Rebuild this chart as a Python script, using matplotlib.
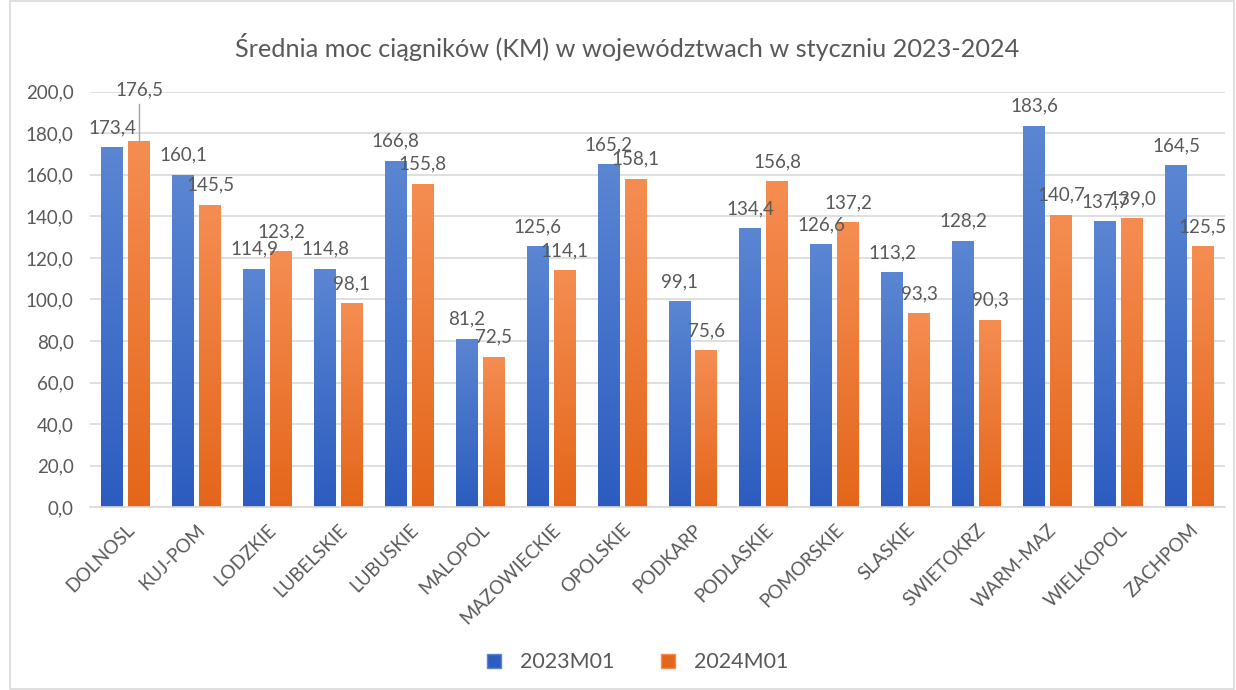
import numpy as np
import matplotlib
matplotlib.use('Agg')
import matplotlib.pyplot as plt
from matplotlib.colors import LinearSegmentedColormap
from matplotlib.patches import Rectangle

plt.rcParams['font.family'] = ['Lato', 'DejaVu Sans']

# dane
wojewodztwa = ['DOLNOSL', 'KUJ-POM', 'LODZKIE', 'LUBELSKIE', 'LUBUSKIE', 'MALOPOL',
               'MAZOWIECKIE', 'OPOLSKIE', 'PODKARP', 'PODLASKIE', 'POMORSKIE', 'SLASKIE',
               'SWIETOKRZ', 'WARM-MAZ', 'WIELKOPOL', 'ZACHPOM']
moc_2023 = [173.4, 160.1, 114.9, 114.8, 166.8, 81.2, 125.6, 165.2, 99.1, 134.4,
            126.6, 113.2, 128.2, 183.6, 137.7, 164.5]
moc_2024 = [176.5, 145.5, 123.2, 98.1, 155.8, 72.5, 114.1, 158.1, 75.6, 156.8,
            137.2, 93.3, 90.3, 140.7, 139.0, 125.5]
serie = ['2023M01', '2024M01']
tytul = 'Średnia moc ciągników (KM) w województwach w styczniu 2023-2024'

szary = '#595959'
kolory = {'2023M01': ('#5b86d3', '#2c5cbf'), '2024M01': ('#f58d52', '#e4661a')}

fig = plt.figure(figsize=(12.36, 6.9), dpi=100)
fig.patches.append(Rectangle((0.008, 0.002), 0.99, 0.996, transform=fig.transFigure,
                             fill=False, edgecolor='#d9d9d9', linewidth=1.2))
ax = fig.add_axes([0.073, 0.265, 0.918, 0.602])

x = np.arange(len(wojewodztwa))
szer = 0.31
przes = 0.19


def gradient_bars(bars, top, bottom):
    cmap = LinearSegmentedColormap.from_list('g', [bottom, top])
    grad = np.linspace(0, 1, 256).reshape(-1, 1)
    for b in bars:
        x0, y0 = b.get_x(), b.get_y()
        w, h = b.get_width(), b.get_height()
        im = ax.imshow(grad, cmap=cmap, origin='lower', aspect='auto',
                       extent=[x0, x0 + w, y0, y0 + h], zorder=2)
        im.set_clip_path(b)
        b.set_facecolor('none')


b1 = ax.bar(x - przes, moc_2023, szer, color=kolory['2023M01'][1], zorder=2, label=serie[0])
b2 = ax.bar(x + przes, moc_2024, szer, color=kolory['2024M01'][1], zorder=2, label=serie[1])
gradient_bars(b1, *kolory['2023M01'])
gradient_bars(b2, *kolory['2024M01'])

def fmt(v):
    return f'{v:.1f}'.replace('.', ',')

for bars, vals in ((b1, moc_2023), (b2, moc_2024)):
    for i, (b, v) in enumerate(zip(bars, vals)):
        cx = b.get_x() + b.get_width() / 2
        if bars is b2 and i == 0:
            # etykieta przesunięta z linią odniesienia
            ax.plot([cx, cx], [v, 194], color='#a6a6a6', lw=1, zorder=3, clip_on=False)
            ax.text(cx, 197, fmt(v), ha='center', va='bottom', fontsize=13.5, color=szary,
                    zorder=4, clip_on=False)
        else:
            ax.annotate(fmt(v), (cx, v), xytext=(0, 8), textcoords='offset points',
                        ha='center', va='bottom', fontsize=13.5, color=szary, zorder=4)

ax.set_xlim(-0.5, len(wojewodztwa) - 0.5)
ax.set_ylim(0, 200)
ax.set_yticks(np.arange(0, 201, 20))
ax.set_yticklabels([fmt(v) for v in np.arange(0, 201, 20)])
ax.set_xticks(x)
ax.set_xticklabels(wojewodztwa, rotation=45, ha='right', rotation_mode='anchor')
ax.tick_params(axis='both', length=0, labelsize=13.5, labelcolor=szary)
ax.tick_params(axis='x', pad=10)
ax.tick_params(axis='y', pad=12)
ax.grid(axis='y', color='#d9d9d9', linewidth=1.2, zorder=0)
ax.set_axisbelow(True)
for s in ['top', 'right', 'left']:
    ax.spines[s].set_visible(False)
ax.spines['bottom'].set_color('#d9d9d9')
ax.spines['bottom'].set_linewidth(1.2)

fig.text(0.507, 0.932, tytul, ha='center', va='center', fontsize=18.2, color=szary)

uchwyty = [plt.Line2D([], [], marker='s', linestyle='none', markersize=10,
                      markerfacecolor=kolory[s][1], markeredgecolor=kolory[s][0]) for s in serie]
fig.legend(uchwyty, serie, loc='center', bbox_to_anchor=(0.51, 0.04), ncol=2, frameon=False,
           fontsize=15.5, labelcolor=szary, handletextpad=0.2, columnspacing=1.5)

fig.savefig('out.png', dpi=100)
